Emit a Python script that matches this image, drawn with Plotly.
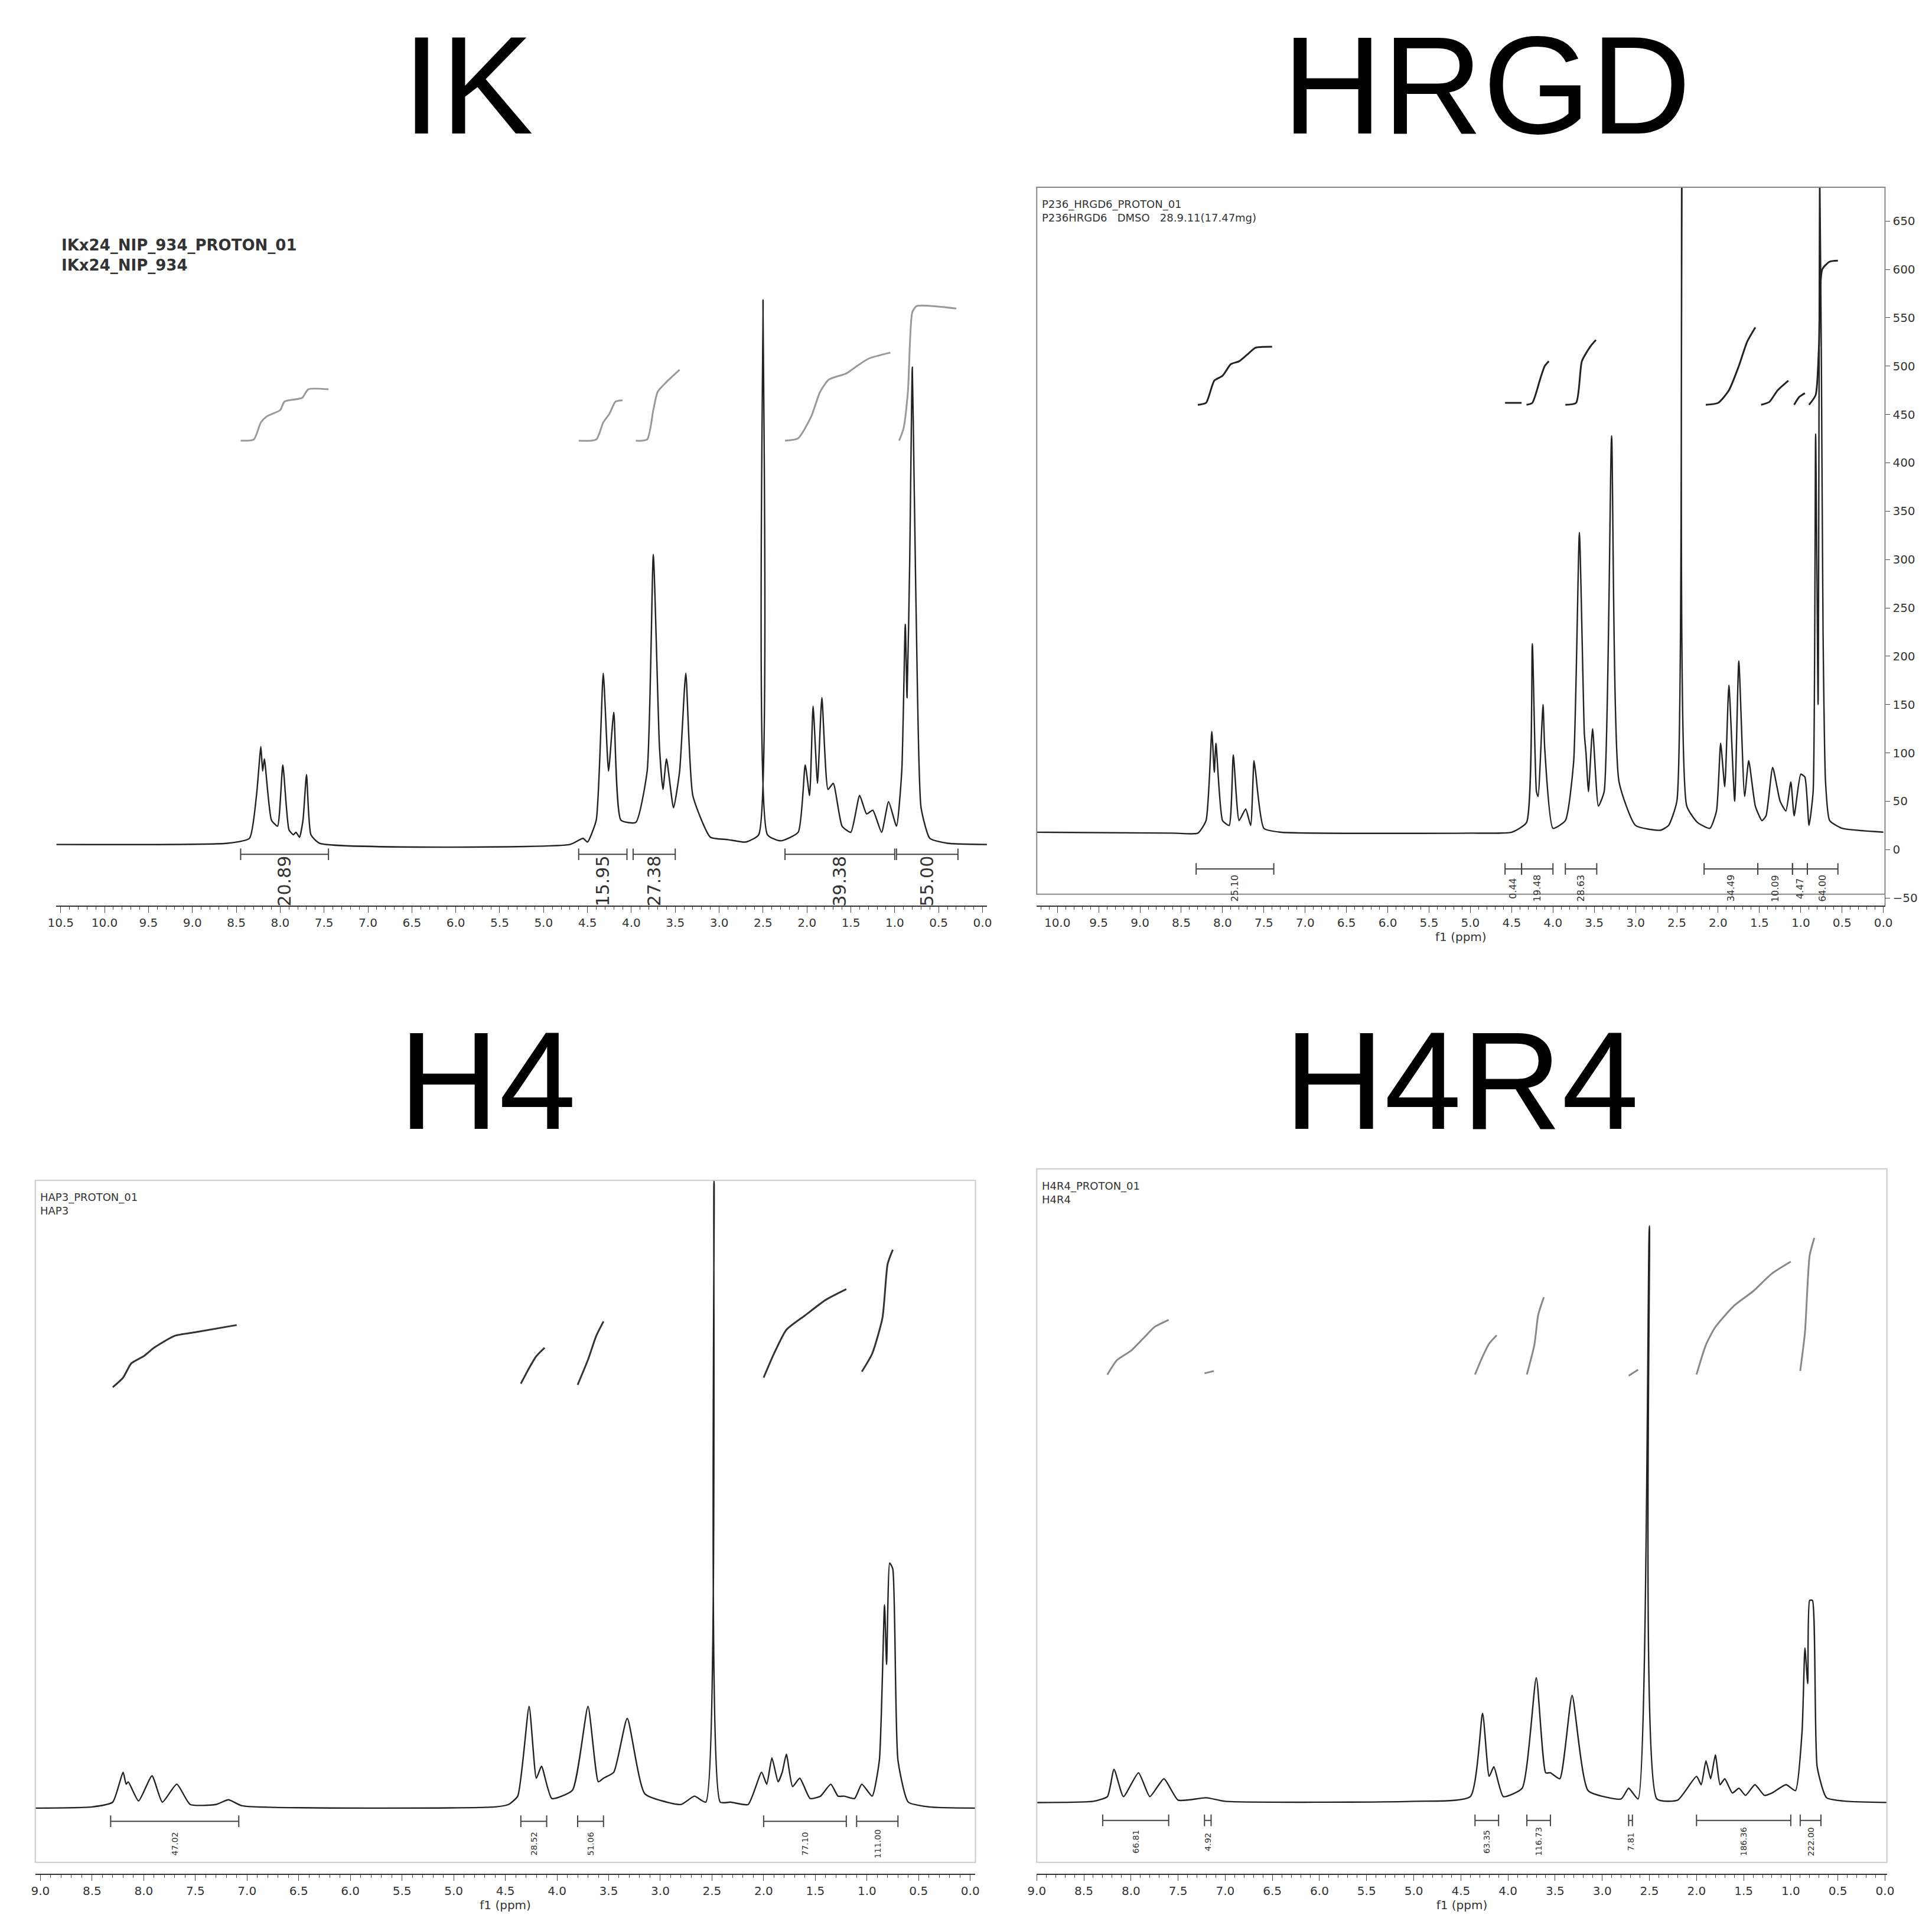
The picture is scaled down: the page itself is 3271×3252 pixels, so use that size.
import plotly.graph_objects as go

# ---- spectra: (ppm, intensity above baseline) ----
ik_ppm = [10.55, 8.6, 8.35, 8.27, 8.22, 8.2, 8.18, 8.1, 8.03, 7.97, 7.9, 7.85, 7.82, 7.78, 7.74, 7.7, 7.65, 7.55, 4.7,
          4.55, 4.5, 4.4, 4.32, 4.26, 4.2, 4.12, 3.95, 3.82, 3.75, 3.68, 3.64, 3.6, 3.52, 3.45, 3.38, 3.3, 3.1, 2.9, 2.7,
          2.55, 2.5, 2.45, 2.3, 2.1, 2.02, 1.97, 1.93, 1.88, 1.83, 1.76, 1.7, 1.6, 1.5, 1.4, 1.32, 1.25, 1.15, 1.07, 0.98,
          0.92, 0.88, 0.86, 0.83, 0.8, 0.78, 0.74, 0.7, 0.6, 0.4, -0.05]
ik_int = [0, 1, 5, 40, 80, 60, 70, 20, 15, 65, 12, 8, 10, 6, 20, 57, 8, 1, 0,
          5, 2, 20, 140, 60, 108, 20, 18, 60, 237, 80, 45, 70, 30, 60, 140, 40, 6, 4, 2,
          8, 445, 8, 3, 10, 65, 40, 113, 50, 120, 45, 50, 15, 10, 40, 25, 28, 10, 35, 15,
          60, 180, 120, 230, 390, 300, 120, 30, 5, 1, 0]

hr_ppm = [10.3, 8.6, 8.3, 8.2, 8.13, 8.1, 8.08, 8.0, 7.92, 7.87, 7.8, 7.72, 7.66, 7.62, 7.6, 7.5, 7.3, 5.0, 4.5, 4.32,
          4.25, 4.2, 4.18, 4.12, 4.1, 4.0, 3.85, 3.75, 3.68, 3.62, 3.6, 3.57, 3.52, 3.45, 3.38, 3.29, 3.2, 3.0, 2.7, 2.6,
          2.5, 2.44, 2.38, 2.25, 2.1, 2.02, 1.97, 1.92, 1.87, 1.8, 1.75, 1.68, 1.63, 1.55, 1.47, 1.42, 1.34, 1.25, 1.18,
          1.12, 1.08, 1.0, 0.95, 0.9, 0.85, 0.82, 0.79, 0.77, 0.75, 0.73, 0.7, 0.65, 0.5, 0.0]
hr_int = [18, 17, 17, 30, 122, 80, 110, 30, 25, 98, 30, 42, 25, 92, 80, 22, 18, 17, 18, 28,
          213, 60, 55, 150, 105, 22, 30, 90, 328, 120, 100, 60, 125, 45, 60, 428, 70, 25, 20, 25,
          50, 700, 45, 28, 22, 40, 110, 65, 170, 50, 195, 55, 92, 45, 30, 35, 85, 50, 40,
          70, 35, 78, 75, 25, 60, 430, 150, 700, 500, 225, 70, 30, 22, 18]

h4_ppm = [9.05, 8.5, 8.3, 8.2, 8.17, 8.15, 8.05, 7.92, 7.82, 7.68, 7.55, 7.3, 7.18, 7.05, 4.6, 4.47, 4.38, 4.27, 4.2,
          4.15, 4.05, 3.85, 3.7, 3.6, 3.55, 3.45, 3.32, 3.15, 2.8, 2.67, 2.56, 2.48, 2.42, 2.32, 2.15, 2.02, 1.97, 1.92,
          1.86, 1.82, 1.78, 1.72, 1.65, 1.55, 1.45, 1.35, 1.28, 1.22, 1.12, 1.05, 0.95, 0.88, 0.83, 0.81, 0.78, 0.75,
          0.7, 0.6, 0.4, -0.05]
h4_int = [0, 1, 5, 30, 20, 22, 6, 27, 5, 20, 3, 3, 7, 2, 1, 3, 10, 85, 25,
          35, 8, 15, 85, 22, 25, 30, 75, 12, 3, 10, 5, 525, 5, 5, 3, 30, 20, 42,
          22, 30, 45, 18, 25, 8, 10, 20, 10, 10, 8, 20, 10, 40, 170, 120, 205, 200,
          40, 5, 1, 0]

hr4_ppm = [9.0, 8.4, 8.25, 8.18, 8.08, 7.92, 7.8, 7.65, 7.5, 7.2, 7.0, 5.0, 4.4, 4.27, 4.2, 4.15, 4.05, 3.85, 3.7,
           3.6, 3.55, 3.45, 3.32, 3.15, 2.8, 2.72, 2.62, 2.5, 2.42, 2.2, 2.0, 1.95, 1.9, 1.85, 1.8, 1.75, 1.7, 1.62,
           1.55, 1.48, 1.38, 1.28, 1.2, 1.05, 0.95, 0.88, 0.85, 0.82, 0.8, 0.77, 0.72, 0.62, 0.4, -0.05]
hr4_int = [0, 1, 5, 28, 5, 25, 5, 20, 2, 4, 1, 1, 5, 75, 22, 30, 5, 12, 105,
           25, 25, 20, 90, 10, 3, 12, 3, 485, 3, 2, 22, 15, 35, 20, 40, 15, 20, 8,
           12, 6, 15, 6, 8, 15, 10, 60, 130, 100, 170, 170, 30, 4, 1, 0]

# ---- integral curves: list of (ppm list, height list) ----
ik_curves = [([8.45, 8.3, 8.22, 8.15, 8.0, 7.95, 7.75, 7.68, 7.45], [330, 331, 345, 350, 355, 362, 365, 372, 372]),
             ([4.6, 4.4, 4.32, 4.25, 4.18, 4.1], [330, 331, 345, 352, 362, 363]),
             ([3.95, 3.82, 3.75, 3.7, 3.6, 3.45], [330, 331, 355, 370, 378, 388]),
             ([2.25, 2.1, 1.95, 1.85, 1.75, 1.55, 1.45, 1.3, 1.05], [330, 332, 350, 370, 380, 385, 390, 397, 402]),
             ([0.95, 0.9, 0.85, 0.8, 0.75, 0.3], [330, 340, 370, 435, 440, 438])]
hr_curves = [([8.3, 8.2, 8.1, 8.0, 7.9, 7.8, 7.7, 7.6, 7.4], [460, 462, 485, 490, 502, 505, 512, 519, 520]),
             ([4.58, 4.38], [462, 462]),
             ([4.32, 4.25, 4.15, 4.1, 4.05], [460, 462, 488, 500, 505]),
             ([3.85, 3.72, 3.65, 3.55, 3.48], [460, 462, 505, 520, 527]),
             ([2.15, 2.0, 1.87, 1.75, 1.65, 1.55], [460, 462, 475, 500, 525, 540]),
             ([1.48, 1.38, 1.28, 1.15], [460, 463, 475, 485]),
             ([1.08, 1.02, 0.95], [460, 468, 472]),
             ([0.9, 0.82, 0.78, 0.74, 0.65, 0.55], [460, 470, 520, 600, 608, 609])]
h4_curves = [([8.3, 8.2, 8.12, 8.0, 7.9, 7.7, 7.5, 7.1], [352, 360, 372, 378, 385, 395, 398, 404]),
             ([4.35, 4.27, 4.2, 4.12], [355, 368, 378, 385]),
             ([3.8, 3.7, 3.62, 3.55], [354, 375, 395, 407]),
             ([2.0, 1.9, 1.78, 1.6, 1.4, 1.2], [360, 380, 400, 412, 425, 434]),
             ([1.05, 0.95, 0.85, 0.8, 0.75], [365, 380, 410, 455, 467])]
hr4_curves = [([8.25, 8.15, 8.0, 7.85, 7.75, 7.6], [360, 372, 380, 392, 400, 406]),
              ([7.22, 7.12], [361, 363]),
              ([4.35, 4.27, 4.2, 4.12], [360, 375, 386, 393]),
              ([3.8, 3.72, 3.68, 3.62], [360, 385, 410, 425]),
              ([2.72, 2.62], [359, 364]),
              ([2.0, 1.9, 1.8, 1.6, 1.4, 1.2, 1.0], [360, 385, 400, 418, 430, 445, 455]),
              ([0.9, 0.85, 0.8, 0.75], [363, 395, 460, 475])]

# ---- integration ranges and values ----
ik_ranges = [(8.45, 7.45), (4.6, 4.05), (3.98, 3.5), (2.25, 1.0), (0.98, 0.28)]
ik_vals = ["20.89", "15.95", "27.38", "39.38", "55.00"]
hr_ranges = [(8.32, 7.38), (4.58, 4.38), (4.38, 4.0), (3.85, 3.47), (2.17, 1.52), (1.52, 1.1), (1.1, 0.92), (0.92, 0.55)]
hr_vals = ["25.10", "0.44", "19.48", "28.63", "34.49", "10.09", "4.47", "64.00"]
h4_ranges = [(8.32, 7.08), (4.35, 4.1), (3.8, 3.55), (2.0, 1.2), (1.1, 0.7)]
h4_vals = ["47.02", "28.52", "51.06", "77.10", "111.00"]
hr4_ranges = [(8.3, 7.6), (7.22, 7.15), (4.35, 4.1), (3.8, 3.55), (2.72, 2.68), (2.0, 1.0), (0.9, 0.68)]
hr4_vals = ["66.81", "4.92", "63.35", "116.73", "7.81", "186.36", "222.00"]

titles = ["IK", "HRGD", "H4", "H4R4"]
headers = ["<b>IKx24_NIP_934_PROTON_01<br>IKx24_NIP_934</b>",
           "P236_HRGD6_PROTON_01<br>P236HRGD6   DMSO   28.9.11(17.47mg)",
           "HAP3_PROTON_01<br>HAP3",
           "H4R4_PROTON_01<br>H4R4"]

panels = [
    dict(ppm=ik_ppm, y=ik_int, curves=ik_curves, ranges=ik_ranges, vals=ik_vals, xr=[10.55, -0.05], yr=[-50, 545],
         dx=[0.022, 0.508], dy=[0.531, 0.91], bar_y=-8, lab_y=-30, lab_size=30, curve_col="#999999", box=False,
         title_xy=(0.237, 0.958), frame="white", ytick=False),
    dict(ppm=hr_ppm, y=hr_int, curves=hr_curves, ranges=hr_ranges, vals=hr_vals, xr=[10.25, -0.02], yr=[-58, 685],
         dx=[0.534, 0.977], dy=[0.531, 0.905], bar_y=-20, lab_y=-40, lab_size=16, curve_col="#222222", box=True,
         title_xy=(0.769, 0.958), frame="#888888", ytick=True),
    dict(ppm=h4_ppm, y=h4_int, curves=h4_curves, ranges=h4_ranges, vals=h4_vals, xr=[9.05, -0.05], yr=[-55, 525],
         dx=[0.011, 0.502], dy=[0.027, 0.388], bar_y=-11, lab_y=-30, lab_size=14, curve_col="#333333", box=True,
         title_xy=(0.247, 0.44), frame="#cccccc", ytick=False),
    dict(ppm=hr4_ppm, y=hr4_int, curves=hr4_curves, ranges=hr4_ranges, vals=hr4_vals, xr=[9.0, -0.02], yr=[-60, 533],
         dx=[0.534, 0.978], dy=[0.027, 0.394], bar_y=-15, lab_y=-33, lab_size=14, curve_col="#888888", box=True,
         title_xy=(0.756, 0.44), frame="#cccccc", ytick=False),
]

fig = go.Figure()
annotations = []
for i, p in enumerate(panels):
    n = "" if i == 0 else str(i + 1)
    xa, ya = "x" + n, "y" + n
    fig.add_trace(go.Scatter(x=p["ppm"], y=p["y"], mode="lines", xaxis=xa, yaxis=ya,
                             line=dict(color="#222222", width=2.4, shape="spline", smoothing=0.5)))
    for cx, cy in p["curves"]:
        fig.add_trace(go.Scatter(x=cx, y=cy, mode="lines", xaxis=xa, yaxis=ya,
                                 line=dict(color=p["curve_col"], width=3, shape="spline", smoothing=0.6)))
    for (a, b), v in zip(p["ranges"], p["vals"]):
        fig.add_trace(go.Scatter(x=[a, b], y=[p["bar_y"], p["bar_y"]], mode="lines+markers", xaxis=xa, yaxis=ya,
                                 line=dict(color="#444444", width=2),
                                 marker=dict(symbol="line-ns", size=14, line=dict(width=2, color="#444444"))))
        annotations.append(dict(x=(a + b) / 2, y=p["lab_y"], xref=xa, yref=ya, text=v, textangle=-90,
                                showarrow=False, font=dict(size=p["lab_size"], color="#333333",
                                                           family="DejaVu Sans")))
    axx = dict(domain=p["dx"], range=p["xr"], anchor=ya, dtick=0.5, ticks="outside", ticklen=10,
               minor=dict(dtick=0.1, ticks="outside", ticklen=5), tickformat=".1f", showgrid=False,
               zeroline=False, showline=True, linecolor="#333333", linewidth=2,
               tickfont=dict(size=20, family="DejaVu Sans", color="#333333"))
    if i > 0:
        axx["title"] = dict(text="f1 (ppm)", font=dict(size=20, family="DejaVu Sans", color="#333333"), standoff=0)
    axy = dict(domain=p["dy"], range=p["yr"], anchor=xa, showgrid=False, zeroline=False, showline=False,
               showticklabels=False)
    if p["ytick"]:
        axy.update(side="right", showticklabels=True, dtick=50, ticks="outside", ticklen=8, showline=True,
                   linecolor="#333333", tickfont=dict(size=20, family="DejaVu Sans", color="#333333"))
    fig.layout["xaxis" + n] = axx
    fig.layout["yaxis" + n] = axy
    if p["box"]:
        fig.add_shape(type="rect", xref="paper", yref="paper", x0=p["dx"][0], x1=p["dx"][1],
                      y0=p["dy"][0] + 0.006, y1=p["dy"][1], line=dict(color=p["frame"], width=2))
    annotations.append(dict(x=p["title_xy"][0], y=p["title_xy"][1], xref="paper", yref="paper", text=titles[i],
                            xanchor="center", yanchor="middle", showarrow=False,
                            font=dict(size=235, family="Liberation Sans", color="black")))
    annotations.append(dict(x=p["dx"][0] + 0.002, y=p["dy"][1] - 0.005 if i != 0 else 0.88, xref="paper",
                            yref="paper", text=headers[i], showarrow=False, xanchor="left", yanchor="top",
                            align="left", font=dict(size=26 if i == 0 else 18, family="DejaVu Sans",
                                                    color="#333333")))

fig.update_layout(width=3271, height=3252, margin=dict(l=0, r=0, t=0, b=0), showlegend=False,
                  plot_bgcolor="white", paper_bgcolor="white", annotations=annotations)
fig.write_html("out.html")
